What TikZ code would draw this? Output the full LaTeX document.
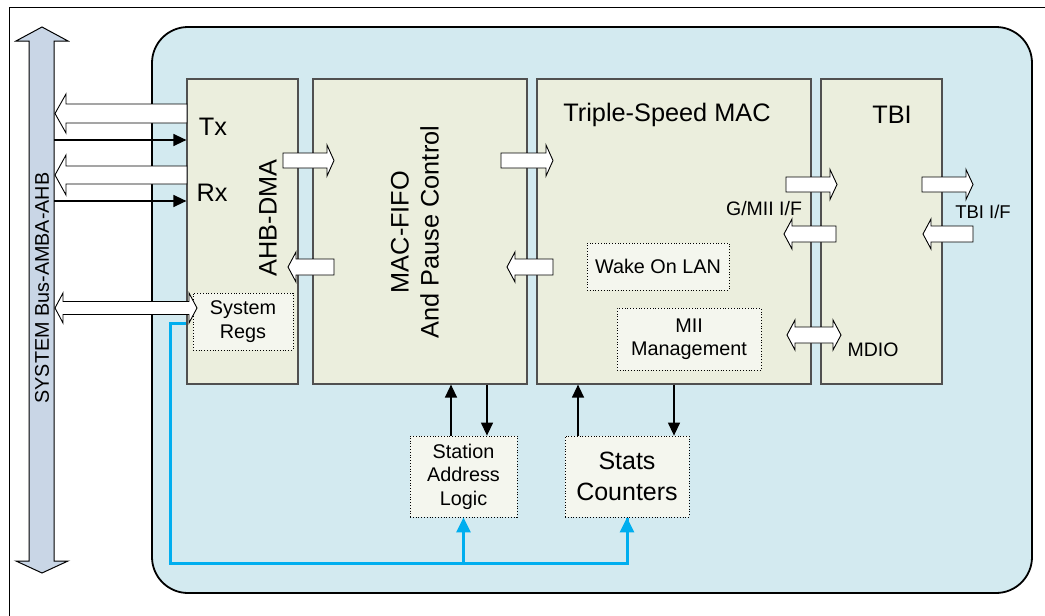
\documentclass[tikz,border=0pt]{standalone}
\usepackage{fontspec}
\setmainfont{Liberation Sans}
\usetikzlibrary{arrows.meta}
\definecolor{outerbg}{HTML}{D3EAF0}
\definecolor{blockbg}{HTML}{EBEEDD}
\definecolor{subbg}{HTML}{F4F6EE}
\definecolor{busbg}{HTML}{C9D6E6}
\definecolor{cyanline}{HTML}{00AEEF}
\definecolor{blockline}{HTML}{505050}
\newcommand\hollowR[6]{\draw[hollow] (#1,#3-#4) -- (#2-#6,#3-#4) -- (#2-#6,#3-#5) -- (#2,#3) -- (#2-#6,#3+#5) -- (#2-#6,#3+#4) -- (#1,#3+#4) -- cycle;}
\newcommand\hollowL[6]{\draw[hollow] (#2,#3-#4) -- (#1+#6,#3-#4) -- (#1+#6,#3-#5) -- (#1,#3) -- (#1+#6,#3+#5) -- (#1+#6,#3+#4) -- (#2,#3+#4) -- cycle;}
\newcommand\hollowLR[6]{\draw[hollow] (#1,#3) -- (#1+#6,#3-#5) -- (#1+#6,#3-#4) -- (#2-#6,#3-#4) -- (#2-#6,#3-#5) -- (#2,#3) -- (#2-#6,#3+#5) -- (#2-#6,#3+#4) -- (#1+#6,#3+#4) -- (#1+#6,#3+#5) -- cycle;}
\begin{document}
\begin{tikzpicture}[x=1pt,y=-1pt,
  block/.style={draw=blockline,line width=1.2pt,fill=blockbg,inner sep=0pt},
  subbox/.style={draw=black,dotted,line width=0.8pt,fill=subbg,inner sep=0pt,align=center,font=\fontsize{19.8}{23.5}\selectfont},
  hollow/.style={draw=black,line width=0.9pt,fill=white,line join=miter},
  big/.style={font=\fontsize{25.3}{30}\selectfont,inner sep=0pt},
  small/.style={font=\fontsize{19.5}{22}\selectfont,inner sep=0pt},
  blk/.style={draw=black,line width=1.3pt,-{Triangle[width=12pt,length=13pt]}},
  cyanl/.style={draw=cyanline,line width=3pt,-{Triangle[width=14pt,length=15pt]}},
]
\useasboundingbox (0,0) rectangle (1045,616);
\clip (0,0) rectangle (1045,616);
% frame
\draw[line width=1pt] (1060,7) -- (9,7) -- (9,630);
% system bus
\draw[line width=1pt,fill=busbg] (42,27) -- (68,41) -- (54,41) -- (54,561) -- (68,561) -- (42,573) -- (16,561) -- (29,561) -- (29,41) -- (16,41) -- cycle;
\node[rotate=90,font=\fontsize{19.8}{23}\selectfont,inner sep=0pt] (busl) at (42,288) {SYSTEM Bus-AMBA-AHB};
% outer rounded box
\draw[line width=1.8pt,fill=outerbg,rounded corners=36pt] (152,27) rectangle (1032,593);
% blocks
\node[block,minimum width=111pt,minimum height=305pt] (dma) at (242.5,231.5) {};
\node[block,minimum width=214pt,minimum height=305pt] (fifo) at (420,231.5) {};
\node[block,minimum width=274pt,minimum height=305pt] (mac) at (674,231.5) {};
\node[block,minimum width=121pt,minimum height=305pt] (tbi) at (881.5,231.5) {};
% sub boxes
\node[subbox,minimum width=100pt,minimum height=57pt] (regs) at (243,321.5) {System\\Regs};
\node[subbox,minimum width=142pt,minimum height=47pt] (wol) at (658,266.5) {Wake On LAN};
\node[subbox,minimum width=144pt,minimum height=62pt] (mii) at (689,339) {MII\\Management};
\node[subbox,minimum width=107pt,minimum height=81pt] (station) at (463.5,476.5) {Station\\Address\\Logic};
\node[subbox,minimum width=124pt,minimum height=81pt,font=\fontsize{25}{31}\selectfont] (stats) at (627,476.5) {Stats\\Counters};
% texts
\node[big] (txl) at (213,127) {Tx};
\node[big] (rxl) at (212,193) {Rx};
\node[big,rotate=90] (dmal) at (268,218) {AHB-DMA};
\node[big,rotate=90,align=center] (fifol) at (415,232) {MAC-FIFO\\And Pause Control};
\node[big] (macl) at (667,115) {Triple-Speed MAC};
\node[big] (tbil) at (892,115) {TBI};
\node[small] (gmii) at (764,209) {G/MII I/F};
\node[small,font=\fontsize{18.5}{22}\selectfont] (tbiif) at (983,212) {TBI I/F};
\node[small] (mdio) at (873,350) {MDIO};
% hollow arrows
\hollowL{55}{187}{113.5}{9.5}{19.5}{11}
\hollowL{55}{187}{175}{9}{20}{11}
\hollowLR{55}{197}{308}{6.5}{15}{8}
\hollowR{283}{334}{160.5}{7.5}{15.5}{7}
\hollowL{288}{334}{267}{8}{15}{8}
\hollowR{501}{553}{160.5}{7.5}{15.5}{7}
\hollowL{507}{553}{267}{8}{15}{8}
\hollowR{786}{837}{184.5}{7.5}{15}{7}
\hollowL{784}{836}{234}{8}{15}{8}
\hollowLR{787}{841}{335}{8}{15}{8}
\hollowR{922}{973}{184.5}{7.5}{15}{7}
\hollowL{923}{973}{234}{8}{15}{8}
% black arrows from bus
\coordinate (txin) at (54,140);
\coordinate (rxin) at (54,201);
\draw[blk] (txin) -- (txin -| dma.west);
\draw[blk] (rxin) -- (rxin -| dma.west);
% station / stats arrows
\draw[blk] ([xshift=-12.5pt]station.north) -- ([xshift=-12.5pt]station.north |- fifo.south);
\draw[blk] ([xshift=23.5pt]station.north |- fifo.south) -- ([xshift=23.5pt]station.north);
\draw[blk] ([xshift=-49pt]stats.north) -- ([xshift=-49pt]stats.north |- mac.south);
\draw[blk] ([xshift=47pt]stats.north |- mac.south) -- ([xshift=47pt]stats.north);
% cyan lines
\coordinate (c0) at (170,323);
\coordinate (c1) at (170,563);
\draw[cyanl,-] (c0 -| dma.west) -- (c0) -- (c1) -| ([yshift=-1pt]stats.south);
\draw[cyanl] (stats.south |- c1) -- (stats.south);
\draw[cyanl] (station.south |- c1) -- (station.south);
\end{tikzpicture}
\end{document}
